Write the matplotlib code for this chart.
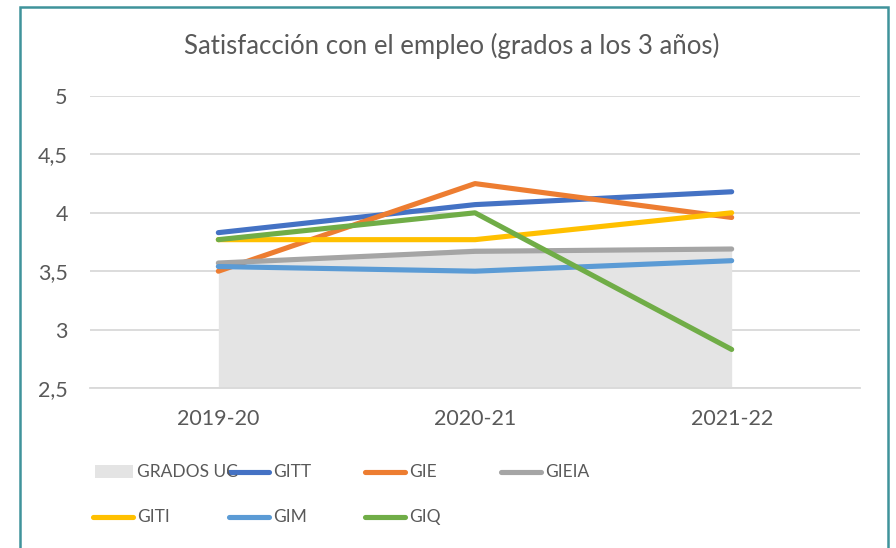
import matplotlib.pyplot as plt
from matplotlib.patches import Rectangle
from matplotlib.lines import Line2D

years = ['2019-20', '2020-21', '2021-22']
grados_uc = [3.57, 3.70, 3.69]
gitt = [3.83, 4.07, 4.18]
gie = [3.50, 4.25, 3.96]
gieia = [3.57, 3.67, 3.69]
giti = [3.77, 3.77, 4.00]
gim = [3.54, 3.50, 3.59]
giq = [3.77, 4.00, 2.83]

names = ['GITT', 'GIE', 'GIEIA', 'GITI', 'GIM', 'GIQ']
series = [gitt, gie, gieia, giti, gim, giq]
colors = ['#4472C4', '#ED7D31', '#A5A5A5', '#FFC000', '#5B9BD5', '#70AD47']
area_color = '#E4E4E4'
text_color = '#595959'

plt.rcParams['font.family'] = ['Lato', 'DejaVu Sans']

W, H = 896, 548
fig = plt.figure(figsize=(W / 100, H / 100), dpi=100)
ax = fig.add_axes([90 / W, 1 - 388 / H, 770 / W, 292 / H])

xs = range(len(years))
ax.fill_between(xs, 2.5, grados_uc, color=area_color, lw=0, zorder=1)
for name, ys, c in zip(names, series, colors):
    ax.plot(xs, ys, color=c, linewidth=3.7, solid_capstyle='round',
            solid_joinstyle='round', zorder=3)

ax.set_xlim(-0.5, 2.5)
ax.set_ylim(2.5, 5)
ax.set_yticks([2.5, 3, 3.5, 4, 4.5, 5])
ax.set_yticklabels(['2,5', '3', '3,5', '4', '4,5', '5'])
ax.set_xticks(list(xs))
ax.set_xticklabels(years)
ax.grid(axis='y', color='#D9D9D9', linewidth=1.3, zorder=0)
ax.set_axisbelow(True)
for s in ['top', 'right', 'left']:
    ax.spines[s].set_visible(False)
ax.spines['bottom'].set_color('#D9D9D9')
ax.spines['bottom'].set_linewidth(1.3)
ax.tick_params(length=0, labelsize=15.5, colors=text_color)
ax.tick_params(axis='y', pad=16)
ax.tick_params(axis='x', pad=15)

fig.text(452 / W, 1 - 46 / H, 'Satisfacción con el empleo (grados a los 3 años)',
         ha='center', va='center', fontsize=18.5, color=text_color)

# legend, Excel-like fixed columns
def px(x, y):
    return x / W, 1 - y / H

labels = ['GRADOS UC'] + names
for i, lab in enumerate(labels):
    col, row = i % 4, i // 4
    x0 = 93 + 136 * col
    y0 = 472 + 45 * row
    if i == 0:
        fig.add_artist(Rectangle(px(x0 + 2, y0 + 6), 38 / W, 13 / H,
                                 transform=fig.transFigure, color=area_color, lw=0))
    else:
        c = colors[i - 1]
        fig.add_artist(Line2D([px(x0, y0)[0], px(x0 + 40, y0)[0]],
                              [px(x0, y0)[1]] * 2, transform=fig.transFigure,
                              color=c, linewidth=3.7, solid_capstyle='round'))
    fig.text(*px(x0 + 44, y0), lab, ha='left', va='center',
             fontsize=12.5, color=text_color)

# chart border
fig.add_artist(Rectangle(px(20, 560), 868 / W, 553 / H, transform=fig.transFigure,
                         fill=False, edgecolor='#3F939B', linewidth=1.8))

fig.savefig('out.png', dpi=100)
